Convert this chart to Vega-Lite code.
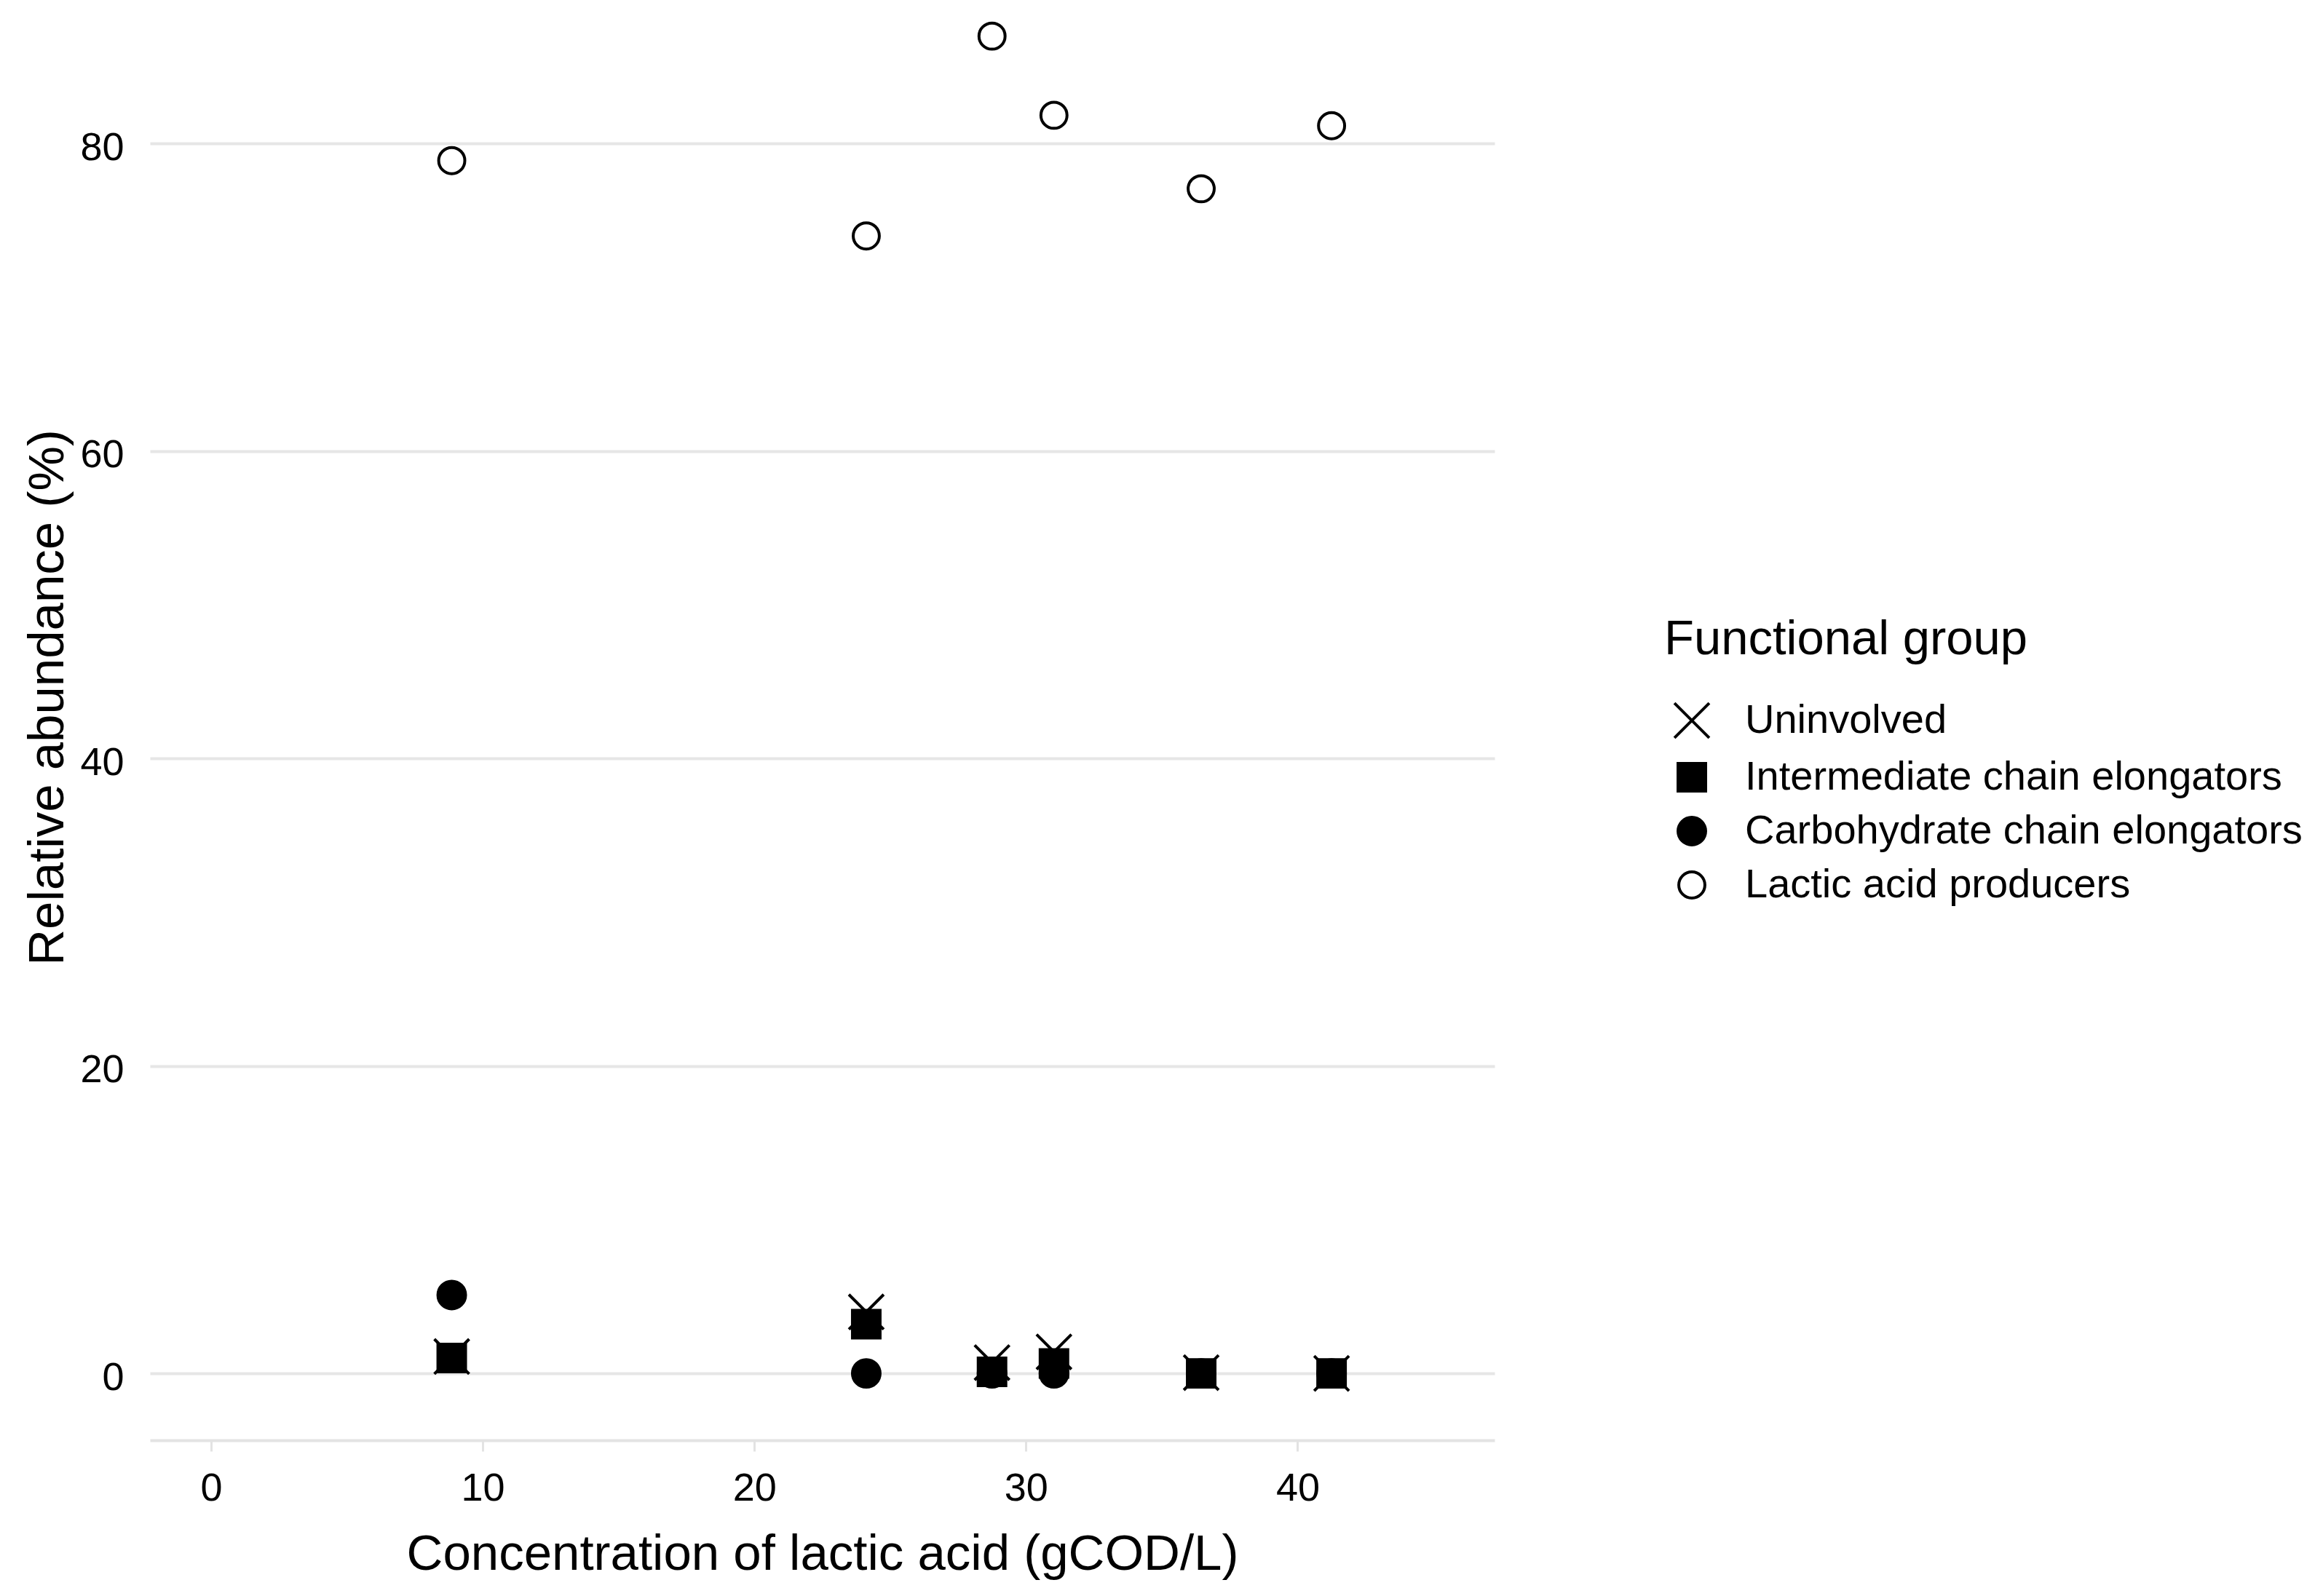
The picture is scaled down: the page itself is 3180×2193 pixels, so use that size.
{
  "$schema": "https://vega.github.io/schema/vega-lite/v6.json",
  "width": 1847,
  "height": 1979,
  "autosize": "none",
  "padding": {"left": 206, "top": 0, "right": 1127, "bottom": 214},
  "background": "white",
  "config": {
    "view": {"stroke": null},
    "font": "Liberation Sans"
  },
  "data": {
    "values": [
      {"conc": 8.86, "abundance": 1.1, "group": "Uninvolved"},
      {"conc": 24.12, "abundance": 4.0, "group": "Uninvolved"},
      {"conc": 28.75, "abundance": 0.7, "group": "Uninvolved"},
      {"conc": 31.03, "abundance": 1.4, "group": "Uninvolved"},
      {"conc": 36.45, "abundance": 0.05, "group": "Uninvolved"},
      {"conc": 41.25, "abundance": 0.0, "group": "Uninvolved"},
      {"conc": 8.86, "abundance": 1.0, "group": "Intermediate chain elongators"},
      {"conc": 24.12, "abundance": 3.2, "group": "Intermediate chain elongators"},
      {"conc": 28.75, "abundance": 0.1, "group": "Intermediate chain elongators"},
      {"conc": 31.03, "abundance": 0.65, "group": "Intermediate chain elongators"},
      {"conc": 36.45, "abundance": 0.0, "group": "Intermediate chain elongators"},
      {"conc": 41.25, "abundance": 0.0, "group": "Intermediate chain elongators"},
      {"conc": 8.86, "abundance": 5.1, "group": "Carbohydrate chain elongators"},
      {"conc": 24.12, "abundance": 0.0, "group": "Carbohydrate chain elongators"},
      {"conc": 28.75, "abundance": 0.0, "group": "Carbohydrate chain elongators"},
      {"conc": 31.03, "abundance": 0.0, "group": "Carbohydrate chain elongators"},
      {"conc": 36.45, "abundance": 0.0, "group": "Carbohydrate chain elongators"},
      {"conc": 41.25, "abundance": 0.0, "group": "Carbohydrate chain elongators"},
      {"conc": 8.86, "abundance": 78.9, "group": "Lactic acid producers"},
      {"conc": 24.12, "abundance": 74.0, "group": "Lactic acid producers"},
      {"conc": 28.75, "abundance": 87.0, "group": "Lactic acid producers"},
      {"conc": 31.03, "abundance": 81.85, "group": "Lactic acid producers"},
      {"conc": 36.45, "abundance": 77.07, "group": "Lactic acid producers"},
      {"conc": 41.25, "abundance": 81.17, "group": "Lactic acid producers"}
    ]
  },
  "mark": {
    "type": "point",
    "opacity": 1,
    "stroke": "black",
    "strokeWidth": 4,
    "size": 2704
  },
  "encoding": {
    "x": {
      "field": "conc",
      "type": "quantitative",
      "scale": {"domain": [-2.25, 47.25], "nice": false, "zero": false},
      "axis": {
        "title": "Concentration of lactic acid (gCOD/L)",
        "values": [0, 10, 20, 30, 40],
        "grid": false,
        "domain": true,
        "domainColor": "#E3E3E3",
        "domainWidth": 4,
        "ticks": true,
        "tickColor": "#E3E3E3",
        "tickWidth": 3,
        "tickSize": 15,
        "labelFontSize": 54,
        "labelColor": "black",
        "labelPadding": 24,
        "titleFontSize": 69,
        "titleFontWeight": "normal",
        "titleColor": "black",
        "titlePadding": 29
      }
    },
    "y": {
      "field": "abundance",
      "type": "quantitative",
      "scale": {"domain": [-4.35, 89.35], "nice": false, "zero": false},
      "axis": {
        "title": "Relative abundance (%)",
        "values": [0, 20, 40, 60, 80],
        "grid": true,
        "gridColor": "#E6E6E6",
        "gridWidth": 4,
        "domain": false,
        "ticks": false,
        "tickSize": 0,
        "labelFontSize": 54,
        "labelColor": "black",
        "labelPadding": 36,
        "labelOffset": 6,
        "titleFontSize": 69,
        "titleFontWeight": "normal",
        "titleColor": "black",
        "titleAngle": -90,
        "titleX": -141,
        "titleY": 958,
        "titleAlign": "center",
        "titleBaseline": "middle"
      }
    },
    "shape": {
      "field": "group",
      "type": "nominal",
      "scale": {
        "domain": ["Uninvolved", "Intermediate chain elongators", "Carbohydrate chain elongators", "Lactic acid producers"],
        "range": [
          "M-0.92,-0.92L0.92,0.92M-0.92,0.92L0.92,-0.92",
          "M-0.73,-0.73L0.73,-0.73L0.73,0.73L-0.73,0.73Z",
          "M0.73,0A0.73,0.73,0,1,1,-0.73,0A0.73,0.73,0,1,1,0.73,0Z",
          "M0.69,0A0.69,0.69,0,1,1,-0.69,0A0.69,0.69,0,1,1,0.69,0Z"
        ]
      },
      "legend": {
        "title": "Functional group",
        "orient": "none",
        "legendX": 2080,
        "legendY": 846,
        "padding": 0,
        "titleFontSize": 67,
        "titleFontWeight": "normal",
        "titleColor": "black",
        "titlePadding": 49,
        "titleLimit": 0,
        "labelFontSize": 56,
        "labelColor": "black",
        "labelOffset": 45,
        "labelLimit": 0,
        "symbolSize": 2704,
        "symbolStrokeColor": "black",
        "symbolStrokeWidth": 4,
        "symbolOpacity": 1,
        "symbolOffset": 10,
        "rowPadding": 18,
        "encode": {
          "symbols": {
            "update": {
              "stroke": {"value": "black"},
              "strokeWidth": {"value": 4},
              "opacity": {"value": 1}
            }
          }
        }
      }
    },
    "fill": {
      "field": "group",
      "type": "nominal",
      "scale": {
        "domain": ["Uninvolved", "Intermediate chain elongators", "Carbohydrate chain elongators", "Lactic acid producers"],
        "range": ["transparent", "black", "black", "white"]
      },
      "legend": {
        "title": "Functional group",
        "orient": "none",
        "legendX": 2080,
        "legendY": 846,
        "padding": 0,
        "titleFontSize": 67,
        "titleFontWeight": "normal",
        "titleColor": "black",
        "titlePadding": 49,
        "titleLimit": 0,
        "labelFontSize": 56,
        "labelColor": "black",
        "labelOffset": 45,
        "labelLimit": 0,
        "symbolSize": 2704,
        "symbolStrokeColor": "black",
        "symbolStrokeWidth": 4,
        "symbolOpacity": 1,
        "symbolOffset": 10,
        "rowPadding": 18,
        "encode": {
          "symbols": {
            "update": {
              "stroke": {"value": "black"},
              "strokeWidth": {"value": 4},
              "opacity": {"value": 1}
            }
          }
        }
      }
    }
  }
}
